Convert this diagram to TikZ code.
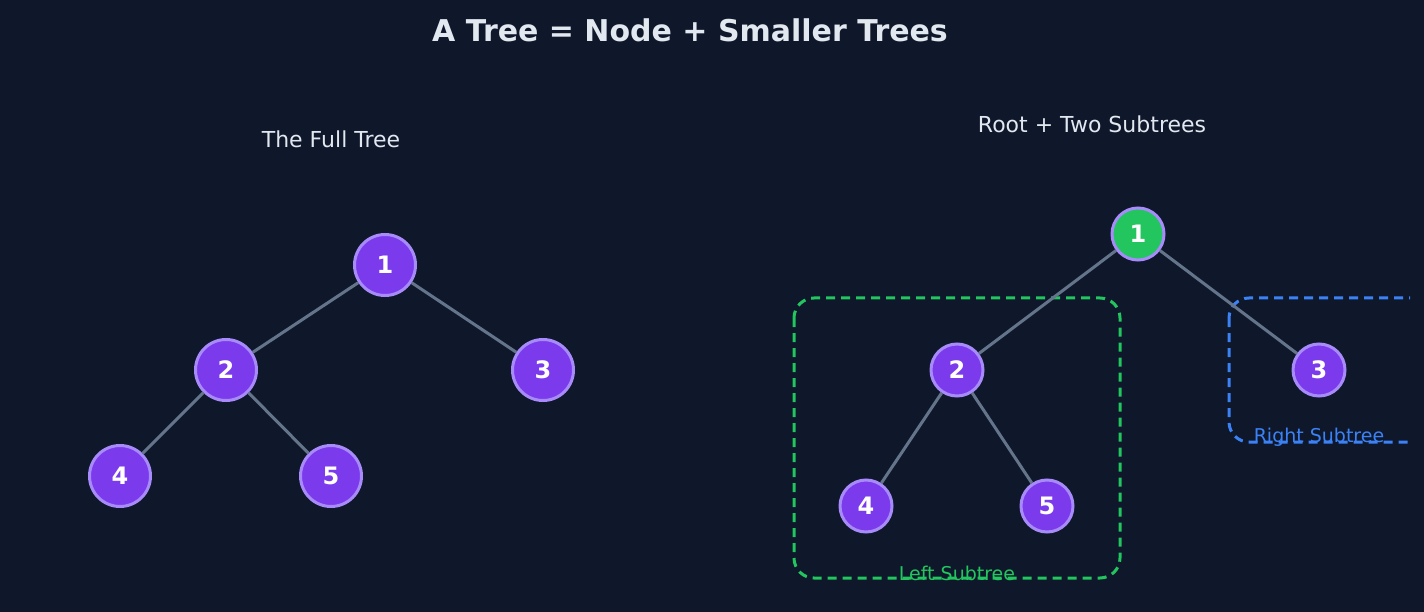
\documentclass[tikz,border=0pt]{standalone}
\usepackage{fontspec}
\setmainfont{DejaVu Sans}
\begin{document}
\definecolor{bg}{HTML}{0F172A}
\definecolor{txt}{HTML}{E2E8F0}
\definecolor{nodef}{HTML}{7C3AED}
\definecolor{nodes}{HTML}{A78BFA}
\definecolor{edge}{HTML}{64748B}
\definecolor{grn}{HTML}{22C55E}
\definecolor{blu}{HTML}{3B82F6}
\begin{tikzpicture}[x=1pt,y=-1pt,
 big/.style={circle,draw=nodes,line width=3pt,fill=nodef,minimum size=61pt,inner sep=0,text=white,font=\fontsize{24}{28}\selectfont\bfseries},
 small/.style={big,minimum size=52pt},
 e/.style={draw=edge,line width=3pt},
 box/.style={dashed,line width=3pt,dash pattern=on 9pt off 6pt,rounded corners=20pt}]
\fill[bg] (0,0) rectangle (1424,612);
\useasboundingbox (0,0) rectangle (1424,612);
\node[text=txt,font=\fontsize{30}{34}\selectfont\bfseries] (title) at (690,30) {A Tree = Node + Smaller Trees};
\node[text=txt,font=\fontsize{22}{26}\selectfont] (lt) at (331,139) {The Full Tree};
\node[text=txt,font=\fontsize{22}{26}\selectfont] (rt) at (1092,124) {Root + Two Subtrees};
% left tree
\node[big] (a1) at (385,265) {1};
\node[big] (a2) at (226,370) {2};
\node[big] (a3) at (543,370) {3};
\node[big] (a4) at (120,476) {4};
\node[big] (a5) at (331,476) {5};
\begin{scope}[on background layer/.try]
\end{scope}
\draw[e] (a1)--(a2); \draw[e] (a1)--(a3); \draw[e] (a2)--(a4); \draw[e] (a2)--(a5);
% right tree
\draw[box,draw=grn] (794,298) rectangle (1120,578);
\begin{scope}
\clip (0,0) rectangle (1410,612);
\draw[box,draw=blu] (1229,298) rectangle (1450,442);
\end{scope}
\node[small,fill=grn] (b1) at (1138,234) {1};
\node[small] (b2) at (957,370) {2};
\node[small] (b3) at (1319,370) {3};
\node[small] (b4) at (866,506) {4};
\node[small] (b5) at (1047,506) {5};
\draw[e] (b1)--(b2); \draw[e] (b1)--(b3); \draw[e] (b2)--(b4); \draw[e] (b2)--(b5);
\node[text=grn,font=\fontsize{19}{22}\selectfont] (ll) at (957,573) {Left Subtree};
\node[text=blu,font=\fontsize{19}{22}\selectfont] (rl) at (1319,437) {Right Subtree};
\end{tikzpicture}
\end{document}
